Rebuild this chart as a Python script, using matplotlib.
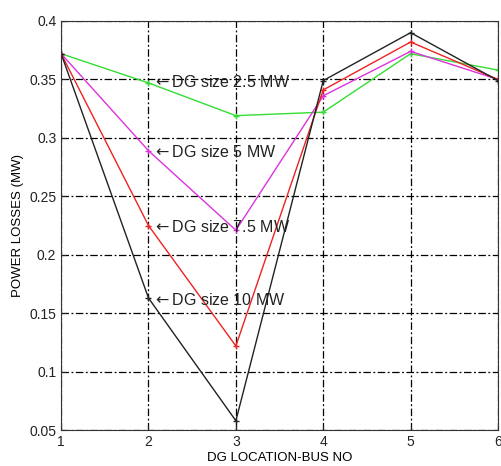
import matplotlib
matplotlib.use("Agg")
import matplotlib.pyplot as plt

# bus numbers where the DG is placed
bus_no = [1, 2, 3, 4, 5, 6]

# power losses (MW) for each DG size
loss_2_5 = [0.372, 0.347, 0.319, 0.322, 0.372, 0.358]
loss_5 = [0.372, 0.289, 0.221, 0.336, 0.374, 0.350]
loss_7_5 = [0.372, 0.225, 0.122, 0.341, 0.382, 0.350]
loss_10 = [0.372, 0.163, 0.058, 0.349, 0.390, 0.349]

labels = ["DG size 2.5 MW", "DG size 5 MW", "DG size 7.5 MW", "DG size 10 MW"]
label_y = [0.348, 0.288, 0.224, 0.161]

plt.rcParams['font.family'] = ['Liberation Sans', 'DejaVu Sans']

fig = plt.figure(figsize=(5.01, 4.66), dpi=100)
ax = fig.add_axes([0.122, 0.077, 0.872, 0.878])

ax.plot(bus_no, loss_2_5, color="#33dd33", lw=1, marker="+", ms=4)
ax.plot(bus_no, loss_5, color="#dd33dd", lw=1, marker="+", ms=4)
ax.plot(bus_no, loss_7_5, color="#ee2222", lw=1, marker="+", ms=4)
ax.plot(bus_no, loss_10, color="#222222", lw=1, marker="+", ms=4)

for txt, yy in zip(labels, label_y):
    ax.text(2.04, yy, r"$\leftarrow$" + txt, fontsize=11.5, ha="left", va="center", color="#222222")

ax.set_xlim(1, 6)
ax.set_ylim(0.05, 0.4)
ax.set_xticks(bus_no)
ax.set_yticks([0.05, 0.1, 0.15, 0.2, 0.25, 0.3, 0.35, 0.4])
ax.set_yticklabels(["0.05", "0.1", "0.15", "0.2", "0.25", "0.3", "0.35", "0.4"])
ax.tick_params(direction="in", labelsize=10, colors="#222222")
ax.grid(True, color="black", linestyle=(0, (6, 2, 1.5, 2)), lw=0.9)

for s in ax.spines.values():
    s.set_color("#333333")

ax.set_xlabel("DG LOCATION-BUS NO", fontsize=9.5, labelpad=2)
ax.set_ylabel("POWER LOSSES (MW)", fontsize=9.5, labelpad=4)

fig.savefig("out.png", dpi=100)
